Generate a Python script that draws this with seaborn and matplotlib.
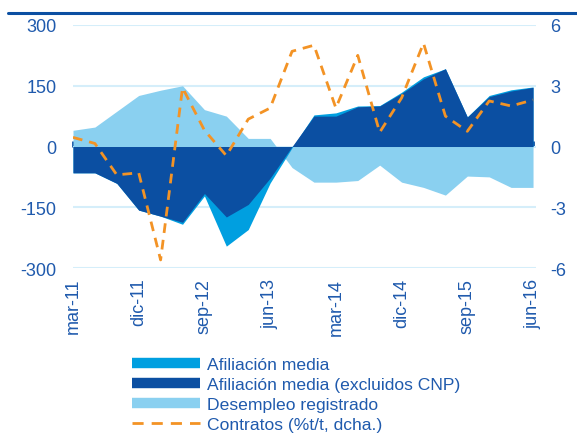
import numpy as np
import pandas as pd
import seaborn as sb
import matplotlib.pyplot as plt
from matplotlib.lines import Line2D

sb.set_theme(style="white", rc={"figure.figsize": (5.77, 4.39), "figure.dpi": 100})
plt.rcParams['font.family'] = ['Liberation Sans', 'DejaVu Sans']
plt.rcParams['axes.unicode_minus'] = False

# quarterly data, mar-11 .. jun-16
quarters = ['mar-11', 'jun-11', 'sep-11', 'dic-11', 'mar-12', 'jun-12', 'sep-12', 'dic-12',
            'mar-13', 'jun-13', 'sep-13', 'dic-13', 'mar-14', 'jun-14', 'sep-14', 'dic-14',
            'mar-15', 'jun-15', 'sep-15', 'dic-15', 'mar-16', 'jun-16']
afiliacion = [-65, -65, -91, -157, -172, -192, -122, -246, -205, -90, -3,
              78, 83, 100, 101, 134, 172, 192, 73, 126, 140, 147]
afiliacion_cnp = [-65, -65, -91, -157, -172, -187, -116, -174, -143, -78, 0,
                  75, 75, 98, 100, 131, 167, 192, 73, 123, 137, 146]
desempleo = [40, 48, 87, 126, 139, 150, 91, 75, 20, 20, -52,
             -88, -88, -84, -46, -88, -101, -120, -73, -75, -101, -101]
contratos = [0.45, 0.15, -1.4, -1.3, -5.6, 2.9, 0.8, -0.45, 1.35, 1.9, 4.7,
             5.0, 1.9, 4.5, 0.7, 2.4, 5.1, 1.5, 0.75, 2.25, 2.0, 2.3]

c_light = '#8ad0f0'
c_mid = '#009fe0'
c_dark = '#0b4fa2'
c_orange = '#f39325'
c_text = '#1f5aad'
c_grid = '#d5eefa'

df = pd.DataFrame({'t': np.arange(len(quarters)), 'afil': afiliacion,
                   'cnp': afiliacion_cnp, 'paro': desempleo, 'contr': contratos})

fig = plt.figure()
ax = fig.add_axes([0.1265, 0.3872, 0.803, 0.5536])

ax.fill_between(df['t'], 0, df['paro'], color=c_light, lw=0, zorder=1)
ax.fill_between(df['t'], 0, df['afil'], color=c_mid, lw=0, zorder=2)
ax.fill_between(df['t'], 0, df['cnp'], color=c_dark, lw=0, zorder=3)

ax.set_ylim(-300, 300)
ax.set_xlim(0, 21.15)
ax.set_yticks([-300, -150, 0, 150, 300])
ax.yaxis.grid(True, color=c_grid, lw=1.5)
ax.set_axisbelow(True)
for s in ax.spines.values():
    s.set_visible(False)
tick_pos = df['t'][::3]
ax.set_xticks(tick_pos)
ax.set_xticklabels(quarters[::3], rotation=90)
ax.tick_params(axis='x', length=0, pad=7, labelsize=13, labelcolor=c_text)
ax.tick_params(axis='y', length=0, pad=12, labelsize=13, labelcolor=c_text)

# zero axis with small ticks
zero = ax.secondary_xaxis(0.5)
zero.set_xticks(tick_pos)
zero.set_xticklabels([])
zero.tick_params(axis='x', direction='out', length=4, width=2, color=c_dark)
zero.spines['bottom'].set_color(c_dark)
zero.spines['bottom'].set_linewidth(2)
for s in ['top', 'left', 'right']:
    zero.spines[s].set_visible(False)

ax2 = ax.twinx()
sb.lineplot(data=df, x='t', y='contr', ax=ax2, color=c_orange, lw=2, legend=False)
ax2.lines[0].set_dashes((3.5, 2.5))
ax2.set_ylim(-6, 6)
ax2.set_yticks([-6, -3, 0, 3, 6])
ax2.set_ylabel('')
ax2.set_xlabel('')
ax.set_xlabel('')
for s in ax2.spines.values():
    s.set_visible(False)
ax2.tick_params(axis='y', length=0, pad=10, labelsize=13, labelcolor=c_text)

# top rule
fig.add_artist(Line2D([0.014, 1.0], [0.969, 0.969], transform=fig.transFigure,
                      color=c_dark, lw=2.2))

handles = [
    Line2D([], [], color=c_mid, lw=7.5, solid_capstyle='butt'),
    Line2D([], [], color=c_dark, lw=7.5, solid_capstyle='butt'),
    Line2D([], [], color=c_light, lw=7.5, solid_capstyle='butt'),
    Line2D([], [], color=c_orange, lw=2, ls=(0, (4, 2.9))),
]
labels = ['Afiliación media', 'Afiliación media (excluidos CNP)',
          'Desempleo registrado', 'Contratos (%t/t, dcha.)']
fig.legend(handles, labels, loc='upper left', bbox_to_anchor=(0.229, 0.185),
           frameon=False, fontsize=12.6, labelcolor=c_text, handlelength=3.85,
           handletextpad=0.4, labelspacing=0.27, borderaxespad=0, borderpad=0)

plt.savefig('out.png', dpi=100)
